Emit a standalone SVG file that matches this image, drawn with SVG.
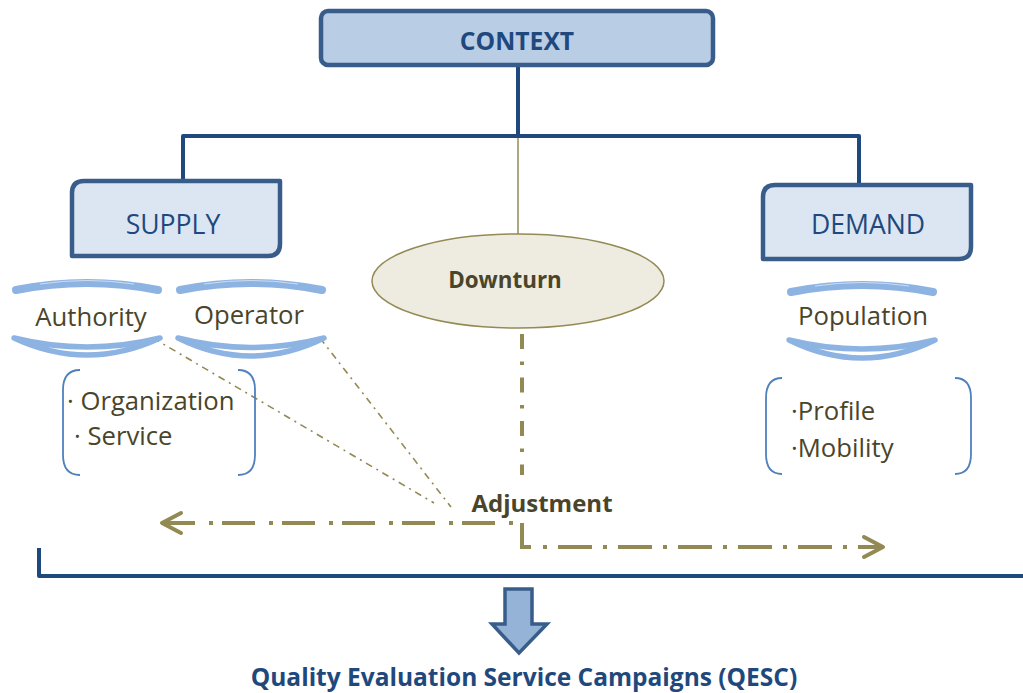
<svg xmlns="http://www.w3.org/2000/svg" width="1023" height="693" viewBox="0 0 1023 693">
  <defs>
    <style>
      .box { stroke: #385d8a; stroke-width: 4.5; stroke-linejoin: round; }
      .head { fill: #b9cde5; }
      .sub { fill: #dce6f2; }
      .tree { fill: none; stroke: #1f497d; stroke-width: 4; stroke-linejoin: round; }
      .thin { fill: none; stroke: #948a54; stroke-width: 1.5; }
      .flow { fill: none; stroke: #938953; stroke-width: 4; }
      .tie { fill: none; stroke: #938953; stroke-width: 1.6; stroke-dasharray: 7 5 2 5; }
      .cap { fill: none; stroke: #8db3e2; stroke-width: 8; stroke-linecap: round; }
      .shine { fill: none; stroke: #ffffff; stroke-width: 1; opacity: 0.55; }
      .cup { fill: #ffffff; stroke: #8db3e2; stroke-width: 5.5; stroke-linejoin: round; }
      .brace { fill: none; stroke: #4f81bd; stroke-width: 1.8; }
      text { font-family: "Open Sans", "Liberation Sans", sans-serif; }
      .lbl { font-size: 25.7px; fill: #4a452a; }
      .hd { font-size: 26.6px; fill: #1f497d; text-anchor: middle; }
      .bold { font-weight: 700; }
    </style>
    <marker id="chev" viewBox="0 0 26 26" refX="23" refY="13" markerWidth="26" markerHeight="26" markerUnits="userSpaceOnUse" orient="auto">
      <path d="M4,3 L23,13 L4,23" fill="none" stroke="#938953" stroke-width="4" stroke-linecap="round" stroke-linejoin="round"/>
    </marker>
  </defs>

  <!-- connectors -->
  <g id="connectors">
    <path class="tree" d="M518,65 V136 M183,181 V136 H859 V185"/>
    <path class="thin" d="M518,138 V234"/>
    <path class="tie" d="M153,338 L434,503"/>
    <path class="tie" d="M320,338 L451,507"/>
    <!-- downturn drop, elbow and the two adjustment arrows -->
    <path class="flow" d="M522,334 V475" stroke-dasharray="15 12.5 3.5 12.5"/>
    <path class="flow" d="M522,523 V547 H531" stroke-linejoin="miter"/>
    <path class="flow" d="M543,547 H883" stroke-dasharray="4 11 34 11" marker-end="url(#chev)"/>
    <path class="flow" d="M513,523 H162" stroke-dasharray="4 14 33 9" marker-end="url(#chev)"/>
    <path class="tree" d="M39,548 V576 H1023" stroke-width="4.5"/>
  </g>

  <!-- top level -->
  <g id="context">
    <rect class="box head" x="321" y="11" width="392" height="54" rx="7"/>
    <text class="hd bold" x="517" y="50" style="font-size:24.7px">CONTEXT</text>
  </g>

  <g id="supply">
    <path class="box sub" d="M84,181 H280 V244 Q280,256 268,256 H72 V193 Q72,181 84,181 Z"/>
    <text class="hd" x="173" y="234">SUPPLY</text>
  </g>

  <g id="demand">
    <path class="box sub" d="M775,185 H971 V247 Q971,259 959,259 H763 V197 Q763,185 775,185 Z"/>
    <text class="hd" x="868" y="234">DEMAND</text>
  </g>

  <!-- actors -->
  <g id="authority">
    <path class="cap" d="M16,290 Q87,276 158,290"/>
    <path class="shine" d="M40,284 Q87,277 134,284"/>
    <path class="cup" d="M14,338 Q87,372 160,338 Q87,356 14,338 Z"/>
    <text class="lbl" x="91" y="326" text-anchor="middle">Authority</text>
  </g>

  <g id="operator">
    <path class="cap" d="M180,290 Q251,276 322,290"/>
    <path class="shine" d="M204,284 Q251,277 298,284"/>
    <path class="cup" d="M178,338 Q251,374 324,338 Q251,357 178,338 Z"/>
    <text class="lbl" x="249" y="324" text-anchor="middle">Operator</text>
  </g>

  <g id="population">
    <path class="cap" d="M791,292 Q862,278 933,292"/>
    <path class="shine" d="M815,286 Q862,279 909,286"/>
    <path class="cup" d="M789,340 Q862,376 935,340 Q862,358 789,340 Z"/>
    <text class="lbl" x="863" y="325" text-anchor="middle">Population</text>
  </g>

  <!-- attribute lists -->
  <g id="supply-attributes">
    <path class="brace" d="M80,370 C68,370 63,378 63,390 V455 C63,467 68,475 80,475"/>
    <path class="brace" d="M238,370 C250,370 255,378 255,390 V455 C255,467 250,475 238,475"/>
    <text class="lbl" x="67" y="410">· Organization</text>
    <text class="lbl" x="74" y="445">· Service</text>
  </g>

  <g id="demand-attributes">
    <path class="brace" d="M782,378 C770,378 766,386 766,398 V454 C766,466 770,474 782,474"/>
    <path class="brace" d="M955,378 C967,378 971,386 971,398 V454 C971,466 967,474 955,474"/>
    <text class="lbl" x="791" y="420">·Profile</text>
    <text class="lbl" x="791" y="457">·Mobility</text>
  </g>

  <g id="downturn">
    <ellipse cx="518" cy="281" rx="146" ry="47" fill="#eeece1" stroke="#948a54" stroke-width="1.5"/>
    <text class="lbl bold" x="505" y="288" text-anchor="middle" style="font-size:22.4px">Downturn</text>
  </g>

  <g id="adjustment">
    <text class="lbl bold" x="542" y="512" text-anchor="middle" style="font-size:24px">Adjustment</text>
  </g>

  <g id="result-arrow">
    <polygon points="505,589 532,589 532,624 547,624 519,653 492,624 505,624" fill="#95b3d7" stroke="#385d8a" stroke-width="3.5" stroke-linejoin="miter"/>
  </g>

  <g id="qesc">
    <text class="hd bold" x="524" y="686" style="font-size:24.5px">Quality Evaluation Service Campaigns (QESC)</text>
  </g>
</svg>
